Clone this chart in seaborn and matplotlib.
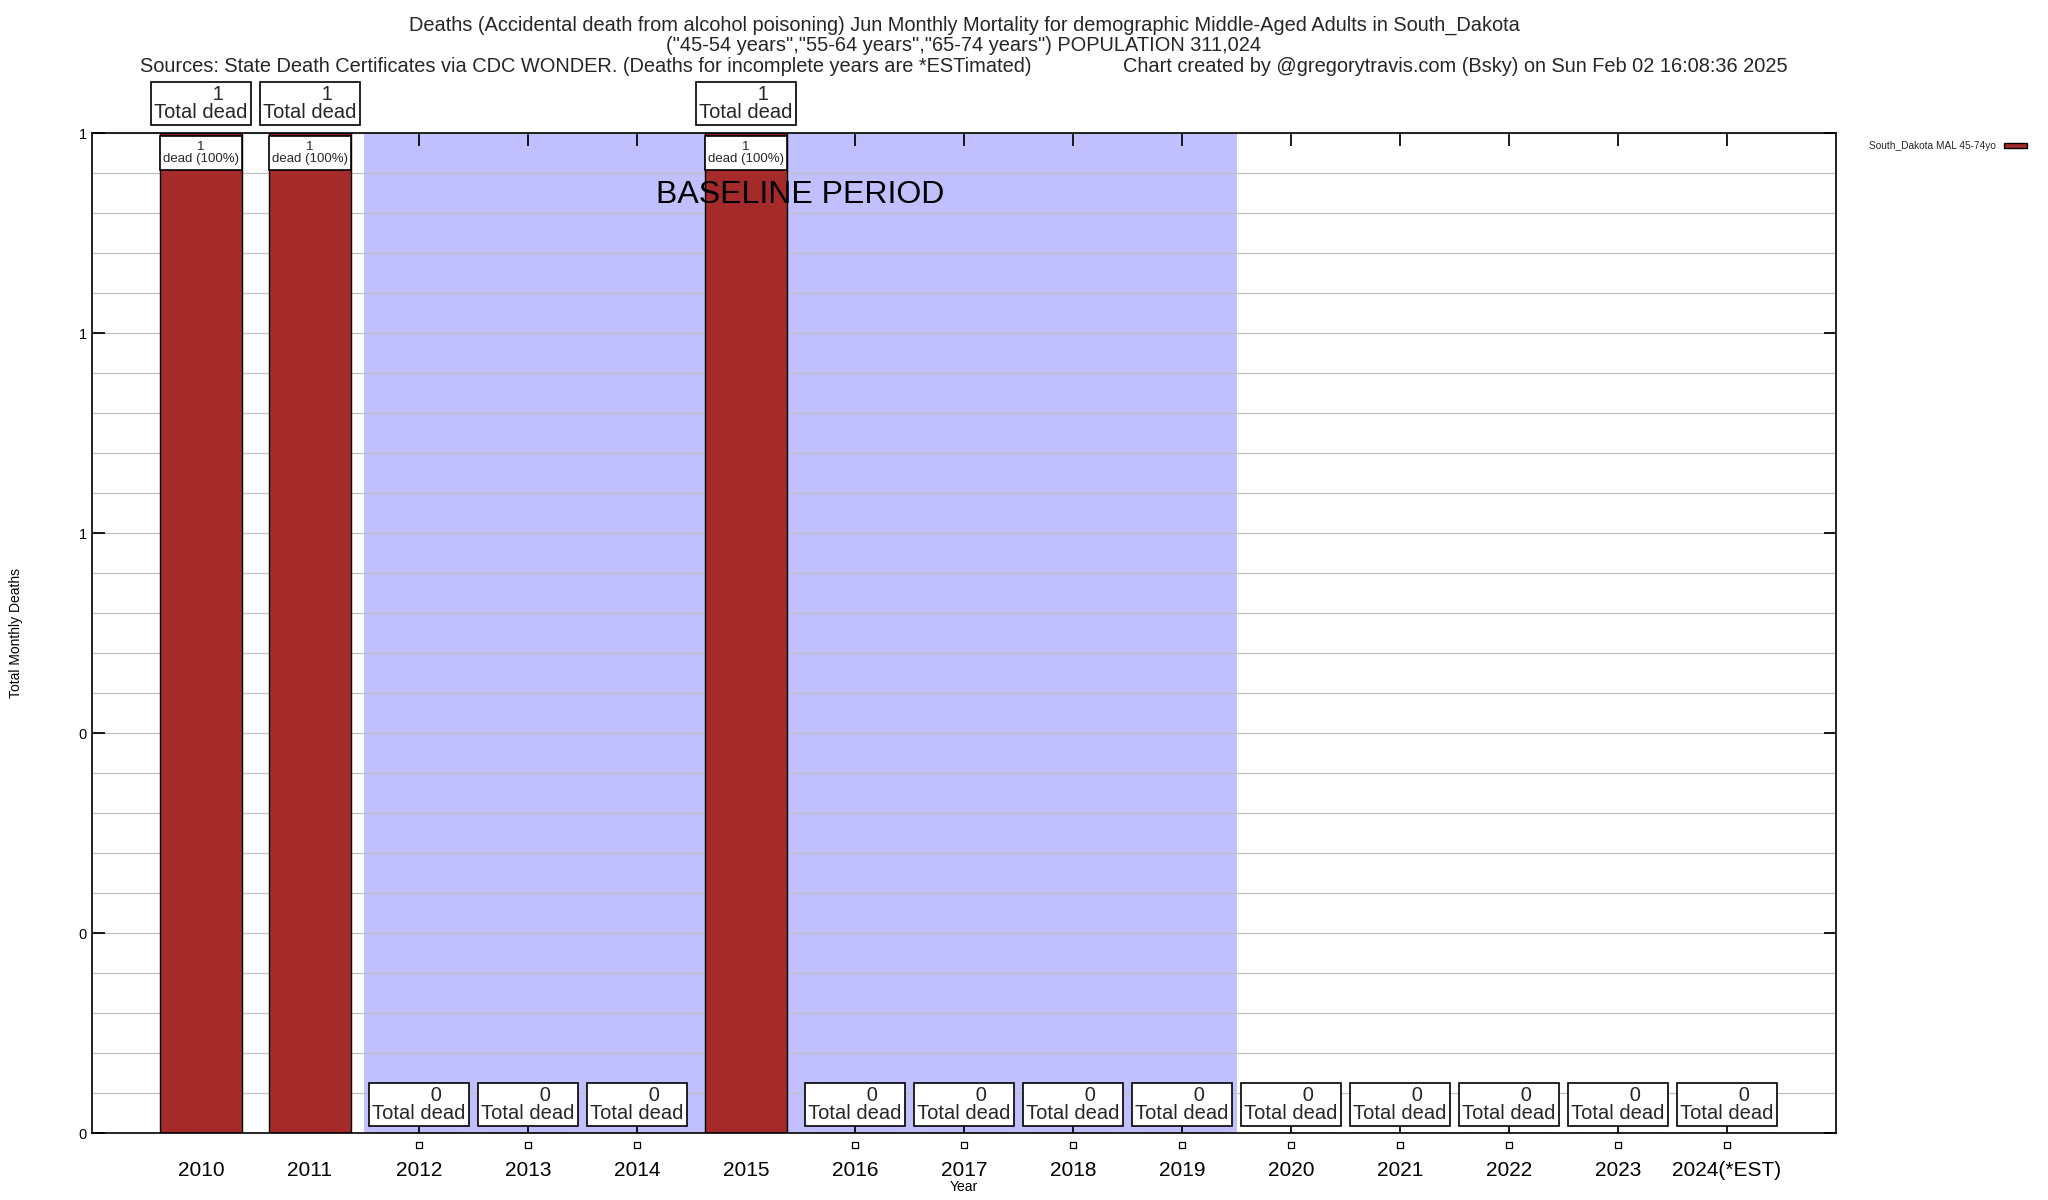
import matplotlib
matplotlib.use("Agg")
import matplotlib.pyplot as plt
import numpy as np
import pandas as pd
import seaborn as sns
from matplotlib.patches import Rectangle

YEARS = ["2010", "2011", "2012", "2013", "2014", "2015", "2016", "2017",
         "2018", "2019", "2020", "2021", "2022", "2023", "2024(*EST)"]
DEATHS = [1, 1, 0, 0, 0, 1, 0, 0, 0, 0, 0, 0, 0, 0, 0]
BASELINE_YEARS = ["2012", "2019"]
Y_TICKS = [0, 0.2, 0.4, 0.6, 0.8, 1.0]

TITLE_1 = ("Deaths (Accidental death from alcohol poisoning) Jun Monthly Mortality "
           "for demographic Middle-Aged Adults in South_Dakota")
TITLE_2 = "(\"45-54 years\",\"55-64 years\",\"65-74 years\") POPULATION 311,024"
SOURCE = "Sources: State Death Certificates via CDC WONDER. (Deaths for incomplete years are *ESTimated)"
CREDIT = "Chart created by @gregorytravis.com (Bsky) on Sun Feb 02 16:08:36 2025"
SERIES = "South_Dakota MAL 45-74yo"

BAR_COLOR = "#a52a2a"
SHADE_COLOR = "#c0c0ff"

df = pd.DataFrame({"year": YEARS, "deaths": DEATHS})

sns.set_theme(style="white")
plt.rcParams["font.family"] = ["Liberation Sans", "DejaVu Sans"]

fig = plt.figure(figsize=(20.48, 12), dpi=100)
ax = fig.add_axes([0.0449, 0.0558, 0.8516, 0.8332])

# baseline shading
b0 = YEARS.index(BASELINE_YEARS[0]) - 0.5
b1 = YEARS.index(BASELINE_YEARS[1]) + 0.5
ax.axvspan(b0, b1, color=SHADE_COLOR, zorder=0.2, lw=0)
ax.text((b0 + b1) / 2, 0.938, "BASELINE PERIOD", ha="center", va="center",
        fontsize=23, color="black", zorder=6)

sns.barplot(data=df, x="year", y="deaths", color=BAR_COLOR, saturation=1,
            width=0.75, edgecolor="black", linewidth=1, ax=ax, zorder=2,
            label=SERIES)
bars = ax.containers[0]

ax.set_xlim(-1, len(YEARS))
ax.set_ylim(0, 1)
ax.set_yticks(Y_TICKS)
ax.set_yticklabels([f"{v:.0f}" for v in Y_TICKS], fontsize=10.5)
ax.set_yticks(np.arange(0, 1.0001, 0.04), minor=True)
ax.grid(True, which="both", axis="y", color="#c0c0c0", lw=0.9, zorder=0.5)
ax.set_axisbelow(True)
ax.tick_params(axis="x", which="both", direction="in", top=True, bottom=True,
               length=9, labelsize=15, pad=20, colors="black")
ax.tick_params(axis="y", which="major", direction="in", left=True, right=True,
               length=9, colors="black")
ax.tick_params(axis="y", which="minor", length=0)
for s in ax.spines.values():
    s.set_color("black")
    s.set_linewidth(1.2)

ax.set_xlabel("Year", fontsize=10, labelpad=0, color="black")
ax.set_ylabel("Total Monthly Deaths", fontsize=10, labelpad=40, color="black")

box = dict(boxstyle="square,pad=0.15", fc="white", ec="black", lw=1.2)
for patch, val in zip(bars.patches, DEATHS):
    xc = patch.get_x() + patch.get_width() / 2
    h = patch.get_height()
    if val > 0:
        ax.annotate(f"      {val}\nTotal dead", xy=(xc, h), xytext=(0, 8),
                    textcoords="offset points", ha="center", va="bottom",
                    fontsize=14.5, linespacing=0.95, bbox=box,
                    annotation_clip=False, zorder=5)
        ax.add_patch(Rectangle((patch.get_x(), h - 0.037), patch.get_width(), 0.034,
                               fc="white", ec="black", lw=1.2, zorder=3))
        ax.text(xc, h - 0.02, f"{val}\ndead (100%)", ha="center", va="center",
                fontsize=9.5, linespacing=0.95, zorder=4)
    else:
        ax.annotate(f"      {val}\nTotal dead", xy=(xc, 0), xytext=(0, 7),
                    textcoords="offset points", ha="center", va="bottom",
                    fontsize=14.5, linespacing=0.95, bbox=box,
                    annotation_clip=False, zorder=5)
        ax.plot([xc], [-0.012], marker="s", ms=5, mfc="white", mec="black",
                mew=0.9, clip_on=False, zorder=5)

leg = ax.legend(loc="upper right", bbox_to_anchor=(0.994, 0.89),
                bbox_transform=fig.transFigure, frameon=False, fontsize=7.3,
                markerfirst=False, handlelength=2.2, handleheight=0.5)

fig.text(0.4707, 0.979, TITLE_1, ha="center", va="center", fontsize=14.4)
fig.text(0.4707, 0.962, TITLE_2, ha="center", va="center", fontsize=14.4)
fig.text(0.0684, 0.945, SOURCE, ha="left", va="center", fontsize=14.4)
fig.text(0.5483, 0.945, CREDIT, ha="left", va="center", fontsize=14.4)

fig.savefig("out.png", dpi=100)
